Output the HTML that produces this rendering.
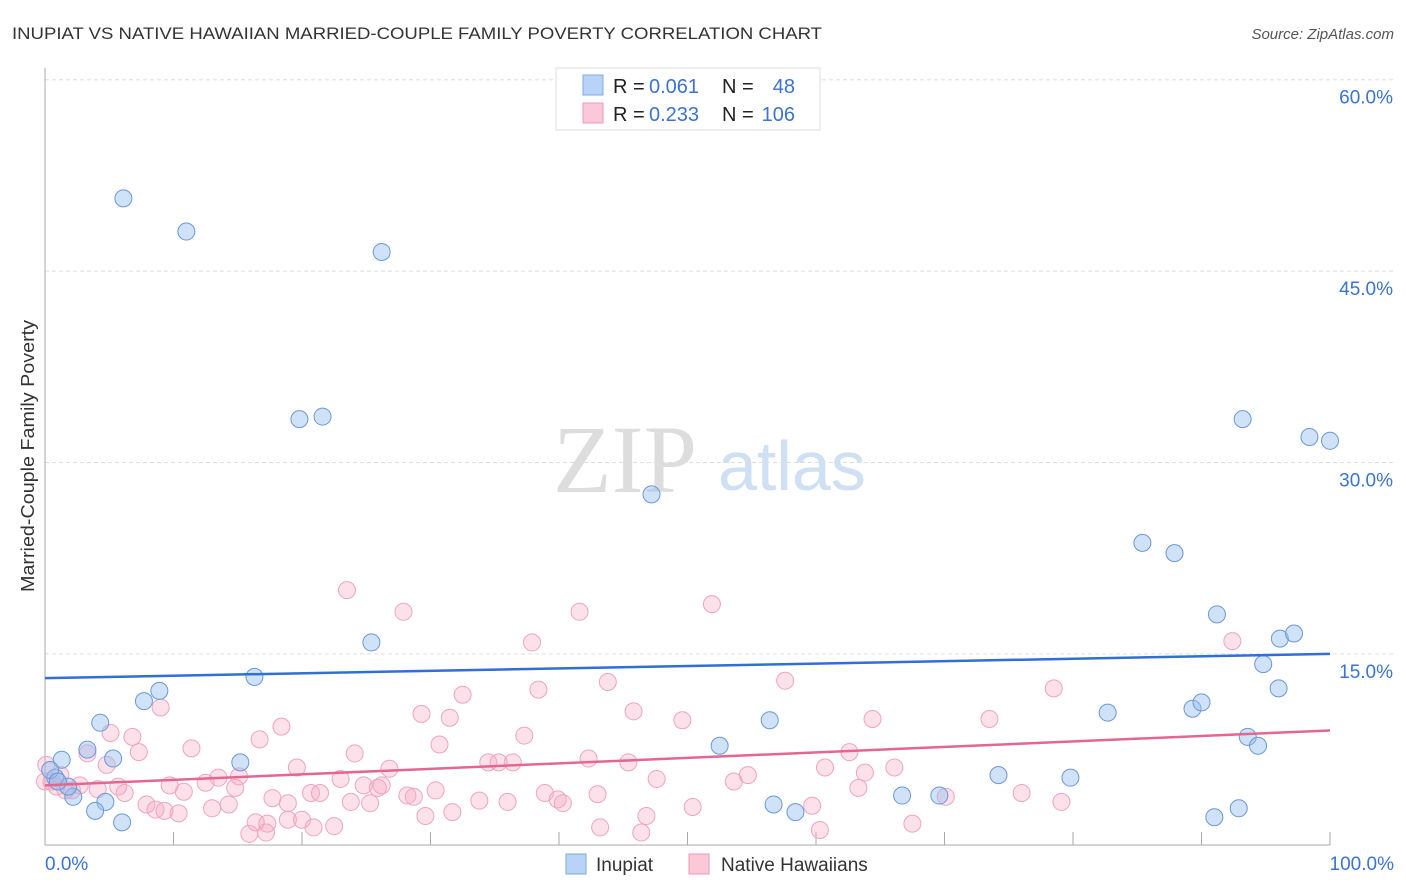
<!DOCTYPE html>
<html><head><meta charset="utf-8"><style>
body{margin:0;background:#fff;width:1406px;height:892px;overflow:hidden;font-family:"Liberation Sans",sans-serif}
svg{position:absolute;left:0;top:0}
</style></head><body>
<svg id="chart" width="1406" height="892" xmlns="http://www.w3.org/2000/svg">
<text x="12" y="39" font-size="17" fill="#333" textLength="810" lengthAdjust="spacingAndGlyphs">INUPIAT VS NATIVE HAWAIIAN MARRIED-COUPLE FAMILY POVERTY CORRELATION CHART</text>
<text x="1394" y="39" font-size="15" font-style="italic" fill="#555" text-anchor="end">Source: ZipAtlas.com</text>
<text transform="translate(34,456) rotate(-90)" font-size="18" fill="#333" text-anchor="middle" textLength="272" lengthAdjust="spacingAndGlyphs">Married-Couple Family Poverty</text>
<g>
<text x="553" y="492" font-family="Liberation Serif,serif" font-size="96" fill="#ddd">ZIP</text>
<text x="718" y="490" font-size="70" fill="#cfe0f4">atlas</text>
</g>
<g id="grid"></g><g id="ticks"></g><g id="pts"></g><g id="trend"></g>
<g>
<rect x="556" y="68" width="264" height="62" fill="#fff" stroke="#ddd"/>
<rect x="583" y="75" width="20" height="20" fill="#b8d3f5" stroke="#7fa9e3"/>
<rect x="583" y="103" width="20" height="20" fill="#fac8d6" stroke="#ef9ab5"/>
<text x="613" y="93" font-size="20" fill="#222">R =</text>
<text x="649" y="93" font-size="20" fill="#3a73d0">0.061</text>
<text x="722" y="93" font-size="20" fill="#222">N =</text>
<text x="795" y="93" font-size="20" fill="#3a73d0" text-anchor="end">48</text>
<text x="613" y="121" font-size="20" fill="#222">R =</text>
<text x="649" y="121" font-size="20" fill="#3a73d0">0.233</text>
<text x="722" y="121" font-size="20" fill="#222">N =</text>
<text x="795" y="121" font-size="20" fill="#3a73d0" text-anchor="end">106</text>
</g>
<g>
<rect x="566" y="854" width="20" height="20" fill="#b8d3f5" stroke="#7fa9e3"/>
<text x="596" y="871" font-size="19" fill="#333">Inupiat</text>
<rect x="689" y="854" width="20" height="20" fill="#fac8d6" stroke="#ef9ab5"/>
<text x="721" y="871" font-size="19" fill="#333">Native Hawaiians</text>
</g>
</svg>
<script>
const yTicks=[15,30,45,60];
const yTickLabels=["15.0%","30.0%","45.0%","60.0%"];
const xTickLabels=["0.0%","100.0%"];
const blueX=[6.1,11.0,26.2,19.8,21.6,47.2,93.2,98.4,100,85.4,87.9,91.2,96.1,97.2,94.8,96.0,89.3,90.0,82.7,56.4,52.5,93.6,94.4,74.2,79.8,66.7,69.6,91.0,92.9,56.7,58.4,25.4,16.3,8.9,7.7,4.3,15.2,3.3,5.3,1.3,0.8,0.4,2.2,1.8,4.7,3.9,6.0,1.0];
const blueY=[50.7,48.1,46.5,33.4,33.6,27.5,33.4,32.0,31.7,23.7,22.9,18.1,16.2,16.6,14.2,12.3,10.7,11.2,10.4,9.8,7.8,8.5,7.8,5.5,5.3,3.9,3.9,2.2,2.9,3.2,2.6,15.9,13.2,12.1,11.3,9.6,6.5,7.5,6.8,6.7,5.3,5.9,3.8,4.6,3.4,2.7,1.8,5.0];
const pinkX=[23.5,27.9,41.6,51.9,37.9,92.4,57.6,43.8,32.5,38.4,78.5,9.0,29.3,31.5,45.8,49.6,64.4,73.5,18.4,6.8,16.7,30.7,37.3,11.4,7.3,24.1,62.6,3.3,5.1,4.8,0.1,15.1,13.5,19.6,23.0,26.8,34.5,35.3,36.4,42.3,45.4,60.7,63.8,66.1,54.7,53.6,47.6,24.8,26.2,14.8,12.5,10.8,9.7,5.7,4.1,2.1,0.9,0.5,6.2,7.9,8.6,9.3,10.4,13.0,14.3,17.7,18.9,20.7,21.4,23.8,25.3,25.9,28.2,28.7,30.4,33.8,36.0,38.9,39.9,40.3,43.0,50.4,59.7,63.3,70.1,76.0,79.1,16.4,17.3,18.9,20.0,20.9,22.5,17.2,15.9,29.6,31.7,46.8,43.2,46.4,60.3,67.5,1.2,2.7,0,1.6];
const pinkY=[20.0,18.3,18.3,18.9,15.9,16.0,12.9,12.8,11.8,12.2,12.3,10.8,10.3,10.0,10.5,9.8,9.9,9.9,9.3,8.5,8.3,7.9,8.6,7.6,7.3,7.2,7.3,7.2,8.8,6.3,6.3,5.4,5.3,6.1,5.2,6.0,6.5,6.5,6.5,6.8,6.5,6.1,5.7,6.1,5.5,5.0,5.2,4.7,4.7,4.5,4.9,4.2,4.7,4.6,4.4,4.3,4.6,5.0,4.1,3.2,2.8,2.7,2.5,2.9,3.2,3.7,3.3,4.1,4.1,3.4,3.3,4.5,3.9,3.8,4.3,3.5,3.4,4.1,3.6,3.3,4.0,3.0,3.1,4.5,3.8,4.1,3.4,1.8,1.7,2.0,2.0,1.4,1.5,1.0,0.9,2.3,2.6,2.3,1.4,1.0,1.2,1.7,5.5,4.7,5.0,4.3];
const blueTrend=[13.1,15.0];
const pinkTrend=[4.7,9.0];
const NS="http://www.w3.org/2000/svg";
const X=v=>45+v*12.85, Y=v=>845.3-v*12.76;
function mk(tag,attrs,parent){const e=document.createElementNS(NS,tag);for(const k in attrs)e.setAttribute(k,attrs[k]);document.getElementById(parent).appendChild(e);return e;}
yTicks.forEach((t,i)=>{
 const g=mk('line',{x1:45,x2:1394,y1:Y(t),y2:Y(t),stroke:'#ddd','stroke-dasharray':'4,3'},'grid');
 
 
 const l=mk('text',{x:1393,y:Y(t)+24,'font-size':19,fill:'#3a73d0','text-anchor':'end'},'grid');l.textContent=yTickLabels[i];
 
 
});
const ax=mk('line',{x1:45,x2:45,y1:68,y2:845,stroke:'#aaa'},'ticks');


const bx=mk('line',{x1:45,x2:1330,y1:845,y2:845,stroke:'#aaa'},'ticks');


for(let p=10;p<=100;p+=10){const t=mk('line',{x1:X(p),x2:X(p),y1:832,y2:845,stroke:'#aaa'},'ticks');
 
 }
[[0,'start',45],[100,'end',1394]].forEach((d,i)=>{const t=mk('text',{x:d[2],y:870,'font-size':19,fill:'#3a73d0','text-anchor':d[1]},'ticks');t.textContent=xTickLabels[i];
 
 });
pinkX.forEach((x,i)=>{const c=mk('circle',{cx:X(x),cy:Y(pinkY[i]),r:8.5,fill:'rgba(246,170,195,0.35)',stroke:'#eea5bd','stroke-width':1},'pts');
 
 });
blueX.forEach((x,i)=>{const c=mk('circle',{cx:X(x),cy:Y(blueY[i]),r:8.5,fill:'rgba(150,190,240,0.45)',stroke:'#6a98da','stroke-width':1},'pts');
 
 });
const bt=mk('line',{x1:X(0),x2:X(100),y1:Y(blueTrend[0]),y2:Y(blueTrend[1]),stroke:'#2f6fd6','stroke-width':2.5},'trend');


const pt=mk('line',{x1:X(0),x2:X(100),y1:Y(pinkTrend[0]),y2:Y(pinkTrend[1]),stroke:'#e5668f','stroke-width':2.5},'trend');


</script>
</body></html>
